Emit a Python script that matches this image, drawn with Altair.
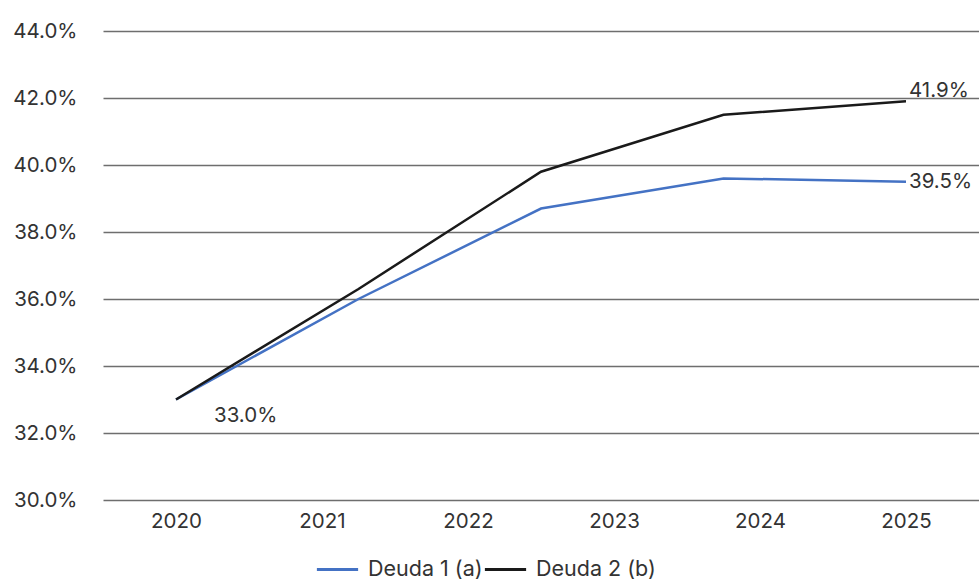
import altair as alt
import pandas as pd

# Series values (percent of GDP) at their plotted positions on the year axis
x_pos = [2020, 2021.25, 2022.5, 2023.75, 2025]
deuda1 = [33.0, 36.0, 38.7, 39.6, 39.5]
deuda2 = [33.0, 36.3, 39.8, 41.5, 41.9]
series_names = ["Deuda 1 (a)", "Deuda 2 (b)"]
series_colors = ["#4472C4", "#1a1a1a"]
year_ticks = [2020, 2021, 2022, 2023, 2024, 2025]
y_ticks = [30, 32, 34, 36, 38, 40, 42, 44]

rows = []
for name, vals in zip(series_names, [deuda1, deuda2]):
    for x, v in zip(x_pos, vals):
        rows.append({"serie": name, "x": x, "valor": v})
df = pd.DataFrame(rows)

# Value labels: first point and the end of each series
labels = pd.DataFrame([
    {"serie": "Deuda 1 (a)", "x": x_pos[0], "valor": deuda1[0], "tipo": "inicio"},
    {"serie": "Deuda 2 (b)", "x": x_pos[-1], "valor": deuda2[-1], "tipo": "fin2"},
    {"serie": "Deuda 1 (a)", "x": x_pos[-1], "valor": deuda1[-1], "tipo": "fin1"},
])
labels["texto"] = labels["valor"].map(lambda v: f"{v:.1f}%")

FONT = "Inter"
TXT = "#333333"
FS = 20.5

x_enc = alt.X(
    "x:Q",
    scale=alt.Scale(domain=[2019.5, 2025.5], nice=False, zero=False),
    axis=alt.Axis(values=year_ticks, format="d", title=None, grid=False,
                  domain=False, ticks=False, labelPadding=11),
)
y_enc = alt.Y(
    "valor:Q",
    scale=alt.Scale(domain=[30, 44], nice=False, zero=False),
    axis=alt.Axis(values=y_ticks, labelExpr="format(datum.value, '.1f') + '%'",
                  title=None, domain=False, ticks=False, labelPadding=26,
                  gridColor="#6e6e6e", gridWidth=1.6, gridOpacity=1),
)

lines = alt.Chart(df).mark_line(strokeWidth=2.5).encode(
    x=x_enc,
    y=y_enc,
    color=alt.Color(
        "serie:N",
        scale=alt.Scale(domain=series_names, range=series_colors),
        legend=alt.Legend(title=None, orient="none", direction="horizontal",
                          legendX=212, legendY=516, symbolType="stroke",
                          symbolSize=1700, symbolStrokeWidth=2.8,
                          labelFontSize=21.5, labelFont=FONT, labelColor=TXT,
                          columnPadding=-4, labelOffset=8),
    ),
    order="x:Q",
)

def label_layer(tipo, dx, dy, align="left", baseline="middle"):
    return alt.Chart(labels[labels["tipo"] == tipo]).mark_text(
        align=align, baseline=baseline, dx=dx, dy=dy,
        fontSize=FS, font=FONT, color=TXT,
    ).encode(x="x:Q", y="valor:Q", text="texto:N")

chart = alt.layer(
    lines,
    label_layer("inicio", 38, 16),
    label_layer("fin2", 3, -10),
    label_layer("fin1", 3, 0),
).properties(
    width=876, height=469,
    autosize=alt.AutoSizeParams(type="none"),
    padding={"left": 103, "top": 31, "right": 0, "bottom": 82},
).configure_view(
    stroke=None
).configure_axis(
    labelFont=FONT, labelFontSize=FS, labelColor=TXT,
)

chart.save("out.html", embed_options={"renderer": "svg", "actions": False})
